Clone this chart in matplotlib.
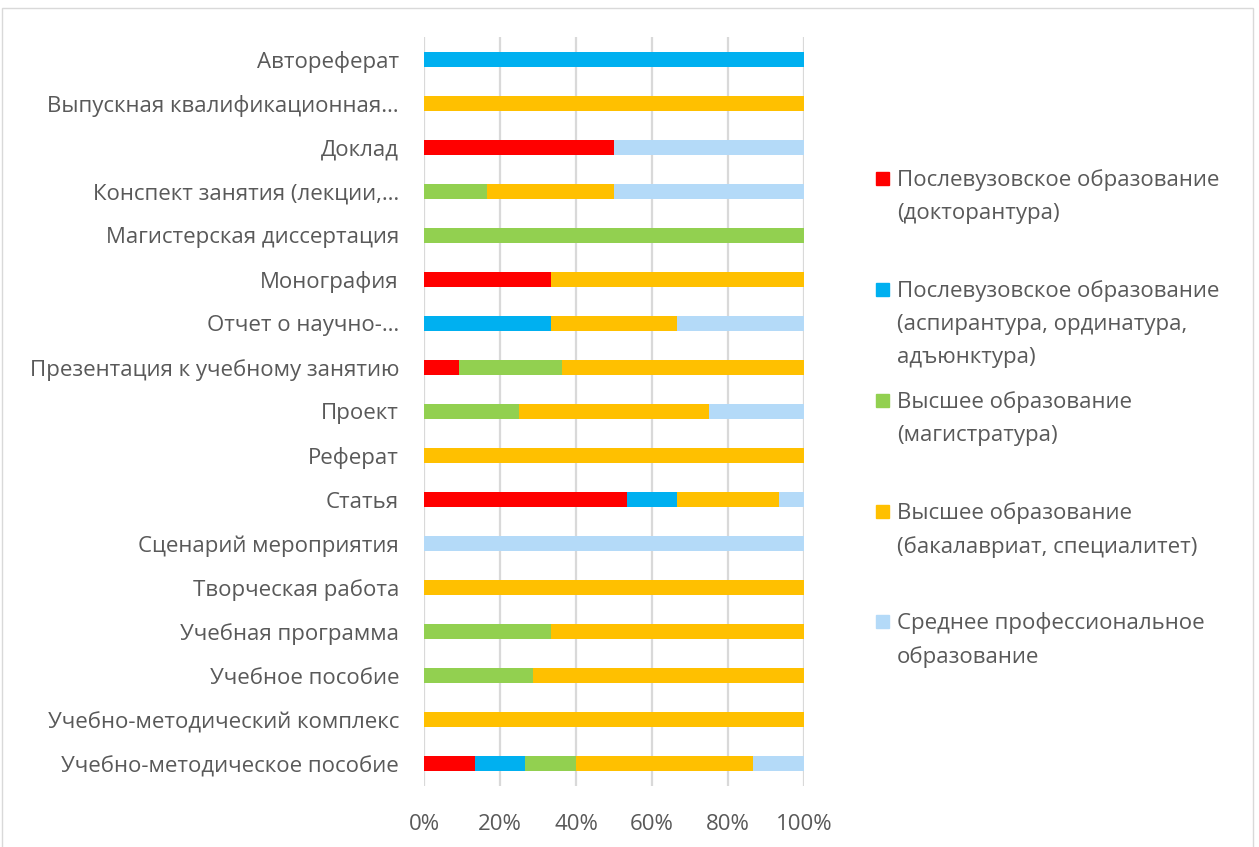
import numpy as np
import matplotlib.pyplot as plt
from matplotlib.patches import Rectangle

plt.rcParams['font.family'] = ['Open Sans', 'DejaVu Sans']

# Категории (сверху вниз)
categories = [
    'Автореферат',
    'Выпускная квалификационная…',
    'Доклад',
    'Конспект занятия (лекции,…',
    'Магистерская диссертация',
    'Монография',
    'Отчет о научно-…',
    'Презентация к учебному занятию',
    'Проект',
    'Реферат',
    'Статья',
    'Сценарий мероприятия',
    'Творческая работа',
    'Учебная программа',
    'Учебное пособие',
    'Учебно-методический комплекс',
    'Учебно-методическое пособие',
]

series_names = [
    'Послевузовское образование\n(докторантура)',
    'Послевузовское образование\n(аспирантура, ординатура,\nадъюнктура)',
    'Высшее образование\n(магистратура)',
    'Высшее образование\n(бакалавриат, специалитет)',
    'Среднее профессиональное\nобразование',
]

# доли, %
doktorantura = [0, 0, 50, 0, 0, 33.3, 0, 9.1, 0, 0, 53.3, 0, 0, 0, 0, 0, 13.3]
aspirantura = [100, 0, 0, 0, 0, 0, 33.3, 0, 0, 0, 13.3, 0, 0, 0, 0, 0, 13.3]
magistratura = [0, 0, 0, 16.7, 100, 0, 0, 27.3, 25, 0, 0, 0, 0, 33.3, 28.6, 0, 13.3]
bakalavriat = [0, 100, 0, 33.3, 0, 66.7, 33.3, 63.6, 50, 100, 26.7, 0, 100, 66.7, 71.4, 100, 46.7]
spo = [0, 0, 50, 50, 0, 0, 33.3, 0, 25, 0, 6.7, 100, 0, 0, 0, 0, 13.3]

colors = ['#FF0000', '#00B0F0', '#92D050', '#FFC000', '#B4DAF8']
text_color = '#595959'

fig = plt.figure(figsize=(12.59, 8.47), dpi=100)
ax = fig.add_axes([424 / 1259, 1 - 786 / 847, 380 / 1259, 749 / 847])

y = np.arange(len(categories))
left = np.zeros(len(categories))
for vals, c in zip([doktorantura, aspirantura, magistratura, bakalavriat, spo], colors):
    ax.barh(y, vals, left=left, height=0.34, color=c, zorder=3)
    left += np.array(vals)

ax.set_ylim(len(categories) - 0.5, -0.5)
ax.set_xlim(0, 100)
ax.set_yticks(y)
ax.set_yticklabels(categories)
ax.set_xticks([0, 20, 40, 60, 80, 100])
ax.set_xticklabels(['0%', '20%', '40%', '60%', '80%', '100%'])
ax.tick_params(axis='y', length=0, pad=18, labelsize=16, labelcolor=text_color)
ax.tick_params(axis='x', length=0, pad=20, labelsize=16, labelcolor=text_color)
ax.grid(axis='x', color='#D9D9D9', linewidth=1.6, zorder=0)
for s in ax.spines.values():
    s.set_visible(False)

# легенда
leg_top = [178, 289, 400, 511, 621]
for name, c, ty in zip(series_names, colors, leg_top):
    fig.add_artist(Rectangle((876 / 1259, 1 - (ty + 7) / 847), 13 / 1259, 13 / 847,
                             transform=fig.transFigure, color=c))
    fig.text(897 / 1259, 1 - (ty - 9) / 847, name, fontsize=16, color=text_color,
             va='top', ha='left', linespacing=1.74)

# рамка
fig.add_artist(Rectangle((2 / 1259, -0.01), 1251 / 1259, 1 - 8 / 847 + 0.01,
                         transform=fig.transFigure, fill=False, edgecolor='#D9D9D9', linewidth=1))

fig.savefig('out.png', dpi=100)
